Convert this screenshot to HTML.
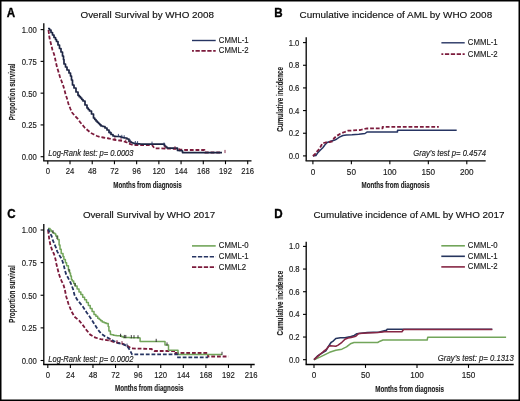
<!DOCTYPE html>
<html><head><meta charset="utf-8"><title>Figure</title>
<style>html,body{margin:0;padding:0;background:#fff;width:520px;height:401px;overflow:hidden;position:relative;font-family:"Liberation Sans",sans-serif;}</style>
</head><body>
<svg width="520" height="401" viewBox="0 0 520 401" style="position:absolute;left:0;top:0;will-change:transform;font-family:'Liberation Sans', sans-serif">
<rect x="0" y="0" width="520" height="401" fill="#fff"/>
<text transform="translate(6.8,16.7) scale(0.9434,1)" font-size="12.30" text-anchor="start" font-weight="bold" font-style="normal" fill="#000" stroke="#000" stroke-width="0.35">A</text>
<text x="80.5" y="17.6" font-size="9.86" text-anchor="start" font-weight="normal" font-style="normal" fill="#111" stroke="#111" stroke-width="0.15">Overall Survival by WHO 2008</text>
<line x1="43.8" y1="23.2" x2="43.8" y2="160.8" stroke="#000" stroke-width="1.3"/>
<line x1="43.15" y1="160.8" x2="251.5" y2="160.8" stroke="#000" stroke-width="1.35"/>
<line x1="40.599999999999994" y1="156.7" x2="43.8" y2="156.7" stroke="#000" stroke-width="1.1"/>
<text transform="translate(36.7,160.04999999999998) scale(0.9091,1)" font-size="8.47" text-anchor="end" font-weight="normal" font-style="normal" fill="#1a1a1a" stroke="#1a1a1a" stroke-width="0.15">0.00</text>
<line x1="40.599999999999994" y1="124.92499999999998" x2="43.8" y2="124.92499999999998" stroke="#000" stroke-width="1.1"/>
<text transform="translate(36.7,128.27499999999998) scale(0.9091,1)" font-size="8.47" text-anchor="end" font-weight="normal" font-style="normal" fill="#1a1a1a" stroke="#1a1a1a" stroke-width="0.15">0.25</text>
<line x1="40.599999999999994" y1="93.14999999999999" x2="43.8" y2="93.14999999999999" stroke="#000" stroke-width="1.1"/>
<text transform="translate(36.7,96.49999999999999) scale(0.9091,1)" font-size="8.47" text-anchor="end" font-weight="normal" font-style="normal" fill="#1a1a1a" stroke="#1a1a1a" stroke-width="0.15">0.50</text>
<line x1="40.599999999999994" y1="61.375" x2="43.8" y2="61.375" stroke="#000" stroke-width="1.1"/>
<text transform="translate(36.7,64.725) scale(0.9091,1)" font-size="8.47" text-anchor="end" font-weight="normal" font-style="normal" fill="#1a1a1a" stroke="#1a1a1a" stroke-width="0.15">0.75</text>
<line x1="40.599999999999994" y1="29.599999999999994" x2="43.8" y2="29.599999999999994" stroke="#000" stroke-width="1.1"/>
<text transform="translate(36.7,32.949999999999996) scale(0.9091,1)" font-size="8.47" text-anchor="end" font-weight="normal" font-style="normal" fill="#1a1a1a" stroke="#1a1a1a" stroke-width="0.15">1.00</text>
<line x1="47.8" y1="160.8" x2="47.8" y2="164.20000000000002" stroke="#000" stroke-width="1.1"/>
<text transform="translate(47.8,173.9) scale(0.9091,1)" font-size="8.47" text-anchor="middle" font-weight="normal" font-style="normal" fill="#1a1a1a" stroke="#1a1a1a" stroke-width="0.15">0</text>
<line x1="70.012" y1="160.8" x2="70.012" y2="164.20000000000002" stroke="#000" stroke-width="1.1"/>
<text transform="translate(70.012,173.9) scale(0.9091,1)" font-size="8.47" text-anchor="middle" font-weight="normal" font-style="normal" fill="#1a1a1a" stroke="#1a1a1a" stroke-width="0.15">24</text>
<line x1="92.22399999999999" y1="160.8" x2="92.22399999999999" y2="164.20000000000002" stroke="#000" stroke-width="1.1"/>
<text transform="translate(92.22399999999999,173.9) scale(0.9091,1)" font-size="8.47" text-anchor="middle" font-weight="normal" font-style="normal" fill="#1a1a1a" stroke="#1a1a1a" stroke-width="0.15">48</text>
<line x1="114.43599999999999" y1="160.8" x2="114.43599999999999" y2="164.20000000000002" stroke="#000" stroke-width="1.1"/>
<text transform="translate(114.43599999999999,173.9) scale(0.9091,1)" font-size="8.47" text-anchor="middle" font-weight="normal" font-style="normal" fill="#1a1a1a" stroke="#1a1a1a" stroke-width="0.15">72</text>
<line x1="136.648" y1="160.8" x2="136.648" y2="164.20000000000002" stroke="#000" stroke-width="1.1"/>
<text transform="translate(136.648,173.9) scale(0.9091,1)" font-size="8.47" text-anchor="middle" font-weight="normal" font-style="normal" fill="#1a1a1a" stroke="#1a1a1a" stroke-width="0.15">96</text>
<line x1="158.86" y1="160.8" x2="158.86" y2="164.20000000000002" stroke="#000" stroke-width="1.1"/>
<text transform="translate(158.86,173.9) scale(0.9091,1)" font-size="8.47" text-anchor="middle" font-weight="normal" font-style="normal" fill="#1a1a1a" stroke="#1a1a1a" stroke-width="0.15">120</text>
<line x1="181.072" y1="160.8" x2="181.072" y2="164.20000000000002" stroke="#000" stroke-width="1.1"/>
<text transform="translate(181.072,173.9) scale(0.9091,1)" font-size="8.47" text-anchor="middle" font-weight="normal" font-style="normal" fill="#1a1a1a" stroke="#1a1a1a" stroke-width="0.15">144</text>
<line x1="203.284" y1="160.8" x2="203.284" y2="164.20000000000002" stroke="#000" stroke-width="1.1"/>
<text transform="translate(203.284,173.9) scale(0.9091,1)" font-size="8.47" text-anchor="middle" font-weight="normal" font-style="normal" fill="#1a1a1a" stroke="#1a1a1a" stroke-width="0.15">168</text>
<line x1="225.49599999999998" y1="160.8" x2="225.49599999999998" y2="164.20000000000002" stroke="#000" stroke-width="1.1"/>
<text transform="translate(225.49599999999998,173.9) scale(0.9091,1)" font-size="8.47" text-anchor="middle" font-weight="normal" font-style="normal" fill="#1a1a1a" stroke="#1a1a1a" stroke-width="0.15">192</text>
<line x1="247.70799999999997" y1="160.8" x2="247.70799999999997" y2="164.20000000000002" stroke="#000" stroke-width="1.1"/>
<text transform="translate(247.70799999999997,173.9) scale(0.9091,1)" font-size="8.47" text-anchor="middle" font-weight="normal" font-style="normal" fill="#1a1a1a" stroke="#1a1a1a" stroke-width="0.15">216</text>
<text x="147.5" y="188.1" font-size="9.8" text-anchor="middle" font-weight="bold" font-style="normal" fill="#222" stroke="#222" stroke-width="0.15" textLength="68.5" lengthAdjust="spacingAndGlyphs">Months from diagnosis</text>
<text x="0" y="0" font-size="9.8" text-anchor="middle" font-weight="bold" font-style="normal" fill="#222" stroke="#222" stroke-width="0.15" textLength="56.8" lengthAdjust="spacingAndGlyphs" transform="translate(14.8,91.85) rotate(-90)">Proportion survival</text>
<text transform="translate(48.2,155.8) scale(0.9091,1)" font-size="8.36" text-anchor="start" font-weight="normal" font-style="italic" fill="#1a1a1a" stroke="#1a1a1a" stroke-width="0.15">Log-Rank test: p= 0.0003</text>
<path d="M192.00,40.50 L215.70,40.50" fill="none" stroke="#263462" stroke-width="1.4" stroke-linejoin="round"/>
<path d="M192.00,50.80 L215.70,50.80" fill="none" stroke="#7c1b3c" stroke-width="1.7" stroke-dasharray="4.3 1.6" stroke-linejoin="round" stroke-dashoffset="2.4"/>
<text transform="translate(218.8,42.8) scale(0.9091,1)" font-size="8.58" text-anchor="start" font-weight="normal" font-style="normal" fill="#1a1a1a" stroke="#1a1a1a" stroke-width="0.15">CMML-1</text>
<text transform="translate(218.8,53.1) scale(0.9091,1)" font-size="8.58" text-anchor="start" font-weight="normal" font-style="normal" fill="#1a1a1a" stroke="#1a1a1a" stroke-width="0.15">CMML-2</text>
<path d="M48.50,30.00 L49.00,34.00 L49.50,38.00 L50.50,42.00 L51.50,46.00 L52.50,50.00 L54.00,54.00 L55.00,58.00 L55.80,62.00 L57.00,67.00 L58.50,72.00 L60.00,77.00 L61.50,81.00 L63.00,85.00 L64.50,90.00 L65.50,94.00 L67.00,98.50 L68.50,104.00 L70.50,109.00 L72.00,112.50 L75.00,116.00 L78.00,119.00 L80.00,122.00 L82.50,125.00 L85.00,128.00 L88.00,130.50 L91.00,133.00 L94.00,134.50 L97.00,136.00 L100.00,137.00 L103.00,137.50 L106.00,138.00 L109.00,138.50 L113.00,139.50 L116.00,140.00 L120.00,140.50 L124.00,141.50 L127.00,142.50 L130.00,144.00 L133.00,145.00 L152.00,145.00 L154.60,148.30 L176.00,148.80 L180.00,149.50 L186.00,150.00 L204.50,150.00 L205.00,152.50 L222.00,152.50" fill="none" stroke="#7c1b3c" stroke-width="1.8" stroke-dasharray="3.8 1.9" stroke-linejoin="round"/>
<path d="M48.00,28.50 L49.50,28.50 L49.50,30.00 L51.00,30.00 L51.00,32.50 L52.50,32.50 L52.50,35.00 L54.00,35.00 L54.00,37.50 L55.50,37.50 L55.50,39.50 L56.50,39.50 L56.50,41.50 L58.00,41.50 L58.00,45.00 L59.50,45.00 L59.50,48.50 L61.00,48.50 L61.00,52.00 L62.50,52.00 L62.50,56.00 L63.50,56.00 L63.50,59.50 L64.00,59.50 L64.00,64.00 L65.50,64.00 L65.50,67.00 L67.00,67.00 L67.00,70.00 L69.00,70.00 L69.00,73.00 L70.50,73.00 L70.50,76.00 L71.50,76.00 L71.50,80.00 L72.50,80.00 L72.50,85.00 L74.00,85.00 L74.00,88.00 L76.00,88.00 L76.00,92.00 L78.00,92.00 L78.00,95.30 L79.25,95.30 L79.25,96.65 L80.50,96.65 L80.50,98.00 L81.75,98.00 L81.75,99.50 L83.00,99.50 L83.00,101.00 L85.00,101.00 L85.00,105.00 L87.00,105.00 L87.00,108.00 L88.25,108.00 L88.25,109.50 L89.50,109.50 L89.50,111.00 L91.50,111.00 L91.50,114.00 L93.50,114.00 L93.50,118.00 L94.75,118.00 L94.75,119.50 L96.00,119.50 L96.00,121.00 L97.25,121.00 L97.25,122.25 L98.50,122.25 L98.50,123.50 L99.75,123.50 L99.75,124.75 L101.00,124.75 L101.00,126.00 L103.00,126.00 L103.00,126.50 L105.00,126.50 L105.00,128.00 L107.00,128.00 L107.00,130.00 L109.00,130.00 L109.00,132.50 L111.00,132.50 L111.00,134.50 L113.00,134.50 L113.00,136.00 L114.50,136.00 L114.50,136.25 L116.00,136.25 L116.00,136.50 L119.00,136.50 L120.50,136.50 L120.50,137.00 L122.00,137.00 L122.00,137.50 L123.50,137.50 L123.50,137.75 L125.00,137.75 L125.00,138.00 L127.00,138.00 L127.00,139.00 L129.00,139.00 L129.00,141.50 L131.00,141.50 L131.00,142.50 L132.50,142.50 L132.50,143.00 L134.00,143.00 L134.00,143.50 L135.50,143.50 L135.50,143.62 L137.00,143.62 L137.00,143.75 L138.50,143.75 L138.50,143.88 L140.00,143.88 L140.00,144.00 L141.50,144.00 L141.50,144.03 L143.00,144.03 L143.00,144.05 L144.50,144.05 L144.50,144.07 L146.00,144.07 L146.00,144.10 L147.50,144.10 L147.50,144.12 L149.00,144.12 L149.00,144.15 L150.50,144.15 L150.50,144.17 L152.00,144.17 L152.00,144.20 L163.50,144.20 L164.50,144.20 L164.50,146.00 L165.75,146.00 L165.75,147.00 L167.00,147.00 L167.00,148.00 L168.50,148.00 L168.50,148.03 L170.00,148.03 L170.00,148.07 L171.50,148.07 L171.50,148.10 L173.00,148.10 L173.00,148.13 L174.50,148.13 L174.50,148.17 L176.00,148.17 L176.00,148.20 L177.50,148.20 L177.50,150.50 L179.00,150.50 L179.00,150.60 L180.50,150.60 L180.50,150.70 L182.00,150.70 L182.00,150.80 L182.50,150.80 L182.50,152.60 L222.00,152.60" fill="none" stroke="#1c2443" stroke-width="1.7" stroke-linejoin="round"/>
<line x1="110" y1="130.90" x2="110" y2="134.10" stroke="#263462" stroke-width="0.9"/>
<line x1="118.4" y1="133.90" x2="118.4" y2="137.10" stroke="#263462" stroke-width="0.9"/>
<line x1="121.8" y1="134.83" x2="121.8" y2="138.03" stroke="#263462" stroke-width="0.9"/>
<line x1="124.2" y1="135.27" x2="124.2" y2="138.47" stroke="#263462" stroke-width="0.9"/>
<line x1="130.3" y1="139.55" x2="130.3" y2="142.75" stroke="#263462" stroke-width="0.9"/>
<line x1="135.3" y1="141.01" x2="135.3" y2="144.21" stroke="#263462" stroke-width="0.9"/>
<line x1="137.6" y1="141.20" x2="137.6" y2="144.40" stroke="#263462" stroke-width="0.9"/>
<line x1="152" y1="141.60" x2="152" y2="144.80" stroke="#263462" stroke-width="0.9"/>
<line x1="164" y1="142.50" x2="164" y2="145.70" stroke="#263462" stroke-width="0.9"/>
<line x1="114.9" y1="137.22" x2="114.9" y2="140.42" stroke="#7c1b3c" stroke-width="0.9"/>
<line x1="121" y1="138.15" x2="121" y2="141.35" stroke="#7c1b3c" stroke-width="0.9"/>
<line x1="125.7" y1="139.47" x2="125.7" y2="142.67" stroke="#7c1b3c" stroke-width="0.9"/>
<line x1="129.9" y1="141.35" x2="129.9" y2="144.55" stroke="#7c1b3c" stroke-width="0.9"/>
<line x1="165" y1="145.94" x2="165" y2="149.14" stroke="#7c1b3c" stroke-width="0.9"/>
<line x1="175" y1="146.18" x2="175" y2="149.38" stroke="#7c1b3c" stroke-width="0.9"/>
<line x1="225" y1="149.90" x2="225" y2="153.10" stroke="#7c1b3c" stroke-width="0.9"/>
<text transform="translate(274.2,16.7) scale(0.9434,1)" font-size="12.30" text-anchor="start" font-weight="bold" font-style="normal" fill="#000" stroke="#000" stroke-width="0.35">B</text>
<text x="299.5" y="17.6" font-size="9.93" text-anchor="start" font-weight="normal" font-style="normal" fill="#111" stroke="#111" stroke-width="0.15">Cumulative incidence of AML by WHO 2008</text>
<line x1="306.2" y1="37.3" x2="306.2" y2="160.8" stroke="#000" stroke-width="1.3"/>
<line x1="305.55" y1="160.8" x2="485.7" y2="160.8" stroke="#000" stroke-width="1.35"/>
<line x1="303.0" y1="155.9" x2="306.2" y2="155.9" stroke="#000" stroke-width="1.1"/>
<text transform="translate(299.4,158.85) scale(0.9091,1)" font-size="8.47" text-anchor="end" font-weight="normal" font-style="normal" fill="#1a1a1a" stroke="#1a1a1a" stroke-width="0.15">0.0</text>
<line x1="303.0" y1="133.24" x2="306.2" y2="133.24" stroke="#000" stroke-width="1.1"/>
<text transform="translate(299.4,136.19) scale(0.9091,1)" font-size="8.47" text-anchor="end" font-weight="normal" font-style="normal" fill="#1a1a1a" stroke="#1a1a1a" stroke-width="0.15">0.2</text>
<line x1="303.0" y1="110.58000000000001" x2="306.2" y2="110.58000000000001" stroke="#000" stroke-width="1.1"/>
<text transform="translate(299.4,113.53000000000002) scale(0.9091,1)" font-size="8.47" text-anchor="end" font-weight="normal" font-style="normal" fill="#1a1a1a" stroke="#1a1a1a" stroke-width="0.15">0.4</text>
<line x1="303.0" y1="87.92000000000002" x2="306.2" y2="87.92000000000002" stroke="#000" stroke-width="1.1"/>
<text transform="translate(299.4,90.87000000000002) scale(0.9091,1)" font-size="8.47" text-anchor="end" font-weight="normal" font-style="normal" fill="#1a1a1a" stroke="#1a1a1a" stroke-width="0.15">0.6</text>
<line x1="303.0" y1="65.26" x2="306.2" y2="65.26" stroke="#000" stroke-width="1.1"/>
<text transform="translate(299.4,68.21000000000001) scale(0.9091,1)" font-size="8.47" text-anchor="end" font-weight="normal" font-style="normal" fill="#1a1a1a" stroke="#1a1a1a" stroke-width="0.15">0.8</text>
<line x1="303.0" y1="42.60000000000001" x2="306.2" y2="42.60000000000001" stroke="#000" stroke-width="1.1"/>
<text transform="translate(299.4,45.55000000000001) scale(0.9091,1)" font-size="8.47" text-anchor="end" font-weight="normal" font-style="normal" fill="#1a1a1a" stroke="#1a1a1a" stroke-width="0.15">1.0</text>
<line x1="312.9" y1="160.8" x2="312.9" y2="164.20000000000002" stroke="#000" stroke-width="1.1"/>
<text transform="translate(312.9,174.9) scale(0.9091,1)" font-size="9.02" text-anchor="middle" font-weight="normal" font-style="normal" fill="#1a1a1a" stroke="#1a1a1a" stroke-width="0.15">0</text>
<line x1="351.375" y1="160.8" x2="351.375" y2="164.20000000000002" stroke="#000" stroke-width="1.1"/>
<text transform="translate(351.375,174.9) scale(0.9091,1)" font-size="9.02" text-anchor="middle" font-weight="normal" font-style="normal" fill="#1a1a1a" stroke="#1a1a1a" stroke-width="0.15">50</text>
<line x1="389.84999999999997" y1="160.8" x2="389.84999999999997" y2="164.20000000000002" stroke="#000" stroke-width="1.1"/>
<text transform="translate(389.84999999999997,174.9) scale(0.9091,1)" font-size="9.02" text-anchor="middle" font-weight="normal" font-style="normal" fill="#1a1a1a" stroke="#1a1a1a" stroke-width="0.15">100</text>
<line x1="428.325" y1="160.8" x2="428.325" y2="164.20000000000002" stroke="#000" stroke-width="1.1"/>
<text transform="translate(428.325,174.9) scale(0.9091,1)" font-size="9.02" text-anchor="middle" font-weight="normal" font-style="normal" fill="#1a1a1a" stroke="#1a1a1a" stroke-width="0.15">150</text>
<line x1="466.79999999999995" y1="160.8" x2="466.79999999999995" y2="164.20000000000002" stroke="#000" stroke-width="1.1"/>
<text transform="translate(466.79999999999995,174.9) scale(0.9091,1)" font-size="9.02" text-anchor="middle" font-weight="normal" font-style="normal" fill="#1a1a1a" stroke="#1a1a1a" stroke-width="0.15">200</text>
<text x="395.6" y="187.7" font-size="9.8" text-anchor="middle" font-weight="bold" font-style="normal" fill="#222" stroke="#222" stroke-width="0.15" textLength="68.2" lengthAdjust="spacingAndGlyphs">Months from diagnosis</text>
<text x="0" y="0" font-size="9.8" text-anchor="middle" font-weight="bold" font-style="normal" fill="#222" stroke="#222" stroke-width="0.15" textLength="64.7" lengthAdjust="spacingAndGlyphs" transform="translate(283.1,99.35) rotate(-90)">Cumulative incidence</text>
<text transform="translate(486,155.9) scale(0.9091,1)" font-size="8.42" text-anchor="end" font-weight="normal" font-style="italic" fill="#1a1a1a" stroke="#1a1a1a" stroke-width="0.15">Gray’s test p= 0.4574</text>
<path d="M441.40,42.80 L464.70,42.80" fill="none" stroke="#263462" stroke-width="1.4" stroke-linejoin="round"/>
<path d="M441.40,54.20 L464.70,54.20" fill="none" stroke="#7c1b3c" stroke-width="1.7" stroke-dasharray="4.3 1.6" stroke-linejoin="round" stroke-dashoffset="2.4"/>
<text transform="translate(467.8,45.1) scale(0.9091,1)" font-size="8.58" text-anchor="start" font-weight="normal" font-style="normal" fill="#1a1a1a" stroke="#1a1a1a" stroke-width="0.15">CMML-1</text>
<text transform="translate(467.8,56.5) scale(0.9091,1)" font-size="8.58" text-anchor="start" font-weight="normal" font-style="normal" fill="#1a1a1a" stroke="#1a1a1a" stroke-width="0.15">CMML-2</text>
<path d="M312.90,156.00 L315.90,155.60 L317.60,153.00 L320.20,150.30 L322.80,147.70 L325.00,144.70 L327.20,142.50 L330.70,141.20 L334.20,140.30 L336.80,139.00 L339.40,137.20 L342.90,135.50 L346.40,135.00 L352.00,134.80 L358.80,134.20 L365.00,133.50 L367.30,131.90 L397.50,131.90 L397.50,130.20 L456.70,130.20" fill="none" stroke="#263462" stroke-width="1.5" stroke-linejoin="round"/>
<path d="M312.90,156.00 L315.80,153.50 L316.30,152.10 L319.40,149.00 L322.40,143.30 L325.50,142.50 L329.40,142.00 L332.90,141.20 L333.80,138.50 L336.80,135.90 L340.30,133.70 L344.70,132.00 L348.20,130.70 L352.00,130.50 L360.40,130.00 L366.50,128.50 L382.60,128.30 L382.60,126.80 L438.80,126.80" fill="none" stroke="#7c1b3c" stroke-width="1.8" stroke-dasharray="3.8 1.9" stroke-linejoin="round"/>
<text transform="translate(7.2,217.7) scale(0.9434,1)" font-size="12.30" text-anchor="start" font-weight="bold" font-style="normal" fill="#000" stroke="#000" stroke-width="0.35">C</text>
<text x="82.9" y="218.1" font-size="9.75" text-anchor="start" font-weight="normal" font-style="normal" fill="#111" stroke="#111" stroke-width="0.15">Overall Survival by WHO 2017</text>
<line x1="43.8" y1="224" x2="43.8" y2="364.5" stroke="#000" stroke-width="1.3"/>
<line x1="43.15" y1="364.5" x2="254.7" y2="364.5" stroke="#000" stroke-width="1.35"/>
<line x1="40.599999999999994" y1="360.5" x2="43.8" y2="360.5" stroke="#000" stroke-width="1.1"/>
<text transform="translate(36.7,363.85) scale(0.9091,1)" font-size="8.47" text-anchor="end" font-weight="normal" font-style="normal" fill="#1a1a1a" stroke="#1a1a1a" stroke-width="0.15">0.00</text>
<line x1="40.599999999999994" y1="327.875" x2="43.8" y2="327.875" stroke="#000" stroke-width="1.1"/>
<text transform="translate(36.7,331.225) scale(0.9091,1)" font-size="8.47" text-anchor="end" font-weight="normal" font-style="normal" fill="#1a1a1a" stroke="#1a1a1a" stroke-width="0.15">0.25</text>
<line x1="40.599999999999994" y1="295.25" x2="43.8" y2="295.25" stroke="#000" stroke-width="1.1"/>
<text transform="translate(36.7,298.6) scale(0.9091,1)" font-size="8.47" text-anchor="end" font-weight="normal" font-style="normal" fill="#1a1a1a" stroke="#1a1a1a" stroke-width="0.15">0.50</text>
<line x1="40.599999999999994" y1="262.625" x2="43.8" y2="262.625" stroke="#000" stroke-width="1.1"/>
<text transform="translate(36.7,265.975) scale(0.9091,1)" font-size="8.47" text-anchor="end" font-weight="normal" font-style="normal" fill="#1a1a1a" stroke="#1a1a1a" stroke-width="0.15">0.75</text>
<line x1="40.599999999999994" y1="230.0" x2="43.8" y2="230.0" stroke="#000" stroke-width="1.1"/>
<text transform="translate(36.7,233.35) scale(0.9091,1)" font-size="8.47" text-anchor="end" font-weight="normal" font-style="normal" fill="#1a1a1a" stroke="#1a1a1a" stroke-width="0.15">1.00</text>
<line x1="47.8" y1="364.5" x2="47.8" y2="367.9" stroke="#000" stroke-width="1.1"/>
<text transform="translate(47.8,377.7) scale(0.9091,1)" font-size="8.47" text-anchor="middle" font-weight="normal" font-style="normal" fill="#1a1a1a" stroke="#1a1a1a" stroke-width="0.15">0</text>
<line x1="70.384" y1="364.5" x2="70.384" y2="367.9" stroke="#000" stroke-width="1.1"/>
<text transform="translate(70.384,377.7) scale(0.9091,1)" font-size="8.47" text-anchor="middle" font-weight="normal" font-style="normal" fill="#1a1a1a" stroke="#1a1a1a" stroke-width="0.15">24</text>
<line x1="92.96799999999999" y1="364.5" x2="92.96799999999999" y2="367.9" stroke="#000" stroke-width="1.1"/>
<text transform="translate(92.96799999999999,377.7) scale(0.9091,1)" font-size="8.47" text-anchor="middle" font-weight="normal" font-style="normal" fill="#1a1a1a" stroke="#1a1a1a" stroke-width="0.15">48</text>
<line x1="115.55199999999999" y1="364.5" x2="115.55199999999999" y2="367.9" stroke="#000" stroke-width="1.1"/>
<text transform="translate(115.55199999999999,377.7) scale(0.9091,1)" font-size="8.47" text-anchor="middle" font-weight="normal" font-style="normal" fill="#1a1a1a" stroke="#1a1a1a" stroke-width="0.15">72</text>
<line x1="138.136" y1="364.5" x2="138.136" y2="367.9" stroke="#000" stroke-width="1.1"/>
<text transform="translate(138.136,377.7) scale(0.9091,1)" font-size="8.47" text-anchor="middle" font-weight="normal" font-style="normal" fill="#1a1a1a" stroke="#1a1a1a" stroke-width="0.15">96</text>
<line x1="160.71999999999997" y1="364.5" x2="160.71999999999997" y2="367.9" stroke="#000" stroke-width="1.1"/>
<text transform="translate(160.71999999999997,377.7) scale(0.9091,1)" font-size="8.47" text-anchor="middle" font-weight="normal" font-style="normal" fill="#1a1a1a" stroke="#1a1a1a" stroke-width="0.15">120</text>
<line x1="183.30399999999997" y1="364.5" x2="183.30399999999997" y2="367.9" stroke="#000" stroke-width="1.1"/>
<text transform="translate(183.30399999999997,377.7) scale(0.9091,1)" font-size="8.47" text-anchor="middle" font-weight="normal" font-style="normal" fill="#1a1a1a" stroke="#1a1a1a" stroke-width="0.15">144</text>
<line x1="205.88799999999998" y1="364.5" x2="205.88799999999998" y2="367.9" stroke="#000" stroke-width="1.1"/>
<text transform="translate(205.88799999999998,377.7) scale(0.9091,1)" font-size="8.47" text-anchor="middle" font-weight="normal" font-style="normal" fill="#1a1a1a" stroke="#1a1a1a" stroke-width="0.15">168</text>
<line x1="228.47199999999998" y1="364.5" x2="228.47199999999998" y2="367.9" stroke="#000" stroke-width="1.1"/>
<text transform="translate(228.47199999999998,377.7) scale(0.9091,1)" font-size="8.47" text-anchor="middle" font-weight="normal" font-style="normal" fill="#1a1a1a" stroke="#1a1a1a" stroke-width="0.15">192</text>
<line x1="251.05599999999998" y1="364.5" x2="251.05599999999998" y2="367.9" stroke="#000" stroke-width="1.1"/>
<text transform="translate(251.05599999999998,377.7) scale(0.9091,1)" font-size="8.47" text-anchor="middle" font-weight="normal" font-style="normal" fill="#1a1a1a" stroke="#1a1a1a" stroke-width="0.15">216</text>
<text x="149.2" y="391" font-size="9.8" text-anchor="middle" font-weight="bold" font-style="normal" fill="#222" stroke="#222" stroke-width="0.15" textLength="68.3" lengthAdjust="spacingAndGlyphs">Months from diagnosis</text>
<text x="0" y="0" font-size="9.8" text-anchor="middle" font-weight="bold" font-style="normal" fill="#222" stroke="#222" stroke-width="0.15" textLength="57.5" lengthAdjust="spacingAndGlyphs" transform="translate(14.8,294.0) rotate(-90)">Proportion survival</text>
<text transform="translate(48.2,361.7) scale(0.9091,1)" font-size="8.36" text-anchor="start" font-weight="normal" font-style="italic" fill="#1a1a1a" stroke="#1a1a1a" stroke-width="0.15">Log-Rank test: p= 0.0002</text>
<path d="M192.00,245.90 L215.70,245.90" fill="none" stroke="#72a55a" stroke-width="1.6" stroke-linejoin="round"/>
<path d="M192.00,256.70 L215.70,256.70" fill="none" stroke="#263462" stroke-width="1.6" stroke-dasharray="4.3 1.6" stroke-linejoin="round"/>
<path d="M192.00,267.20 L215.70,267.20" fill="none" stroke="#7c1b3c" stroke-width="1.7" stroke-dasharray="4.3 1.6" stroke-linejoin="round"/>
<text transform="translate(218.8,248.2) scale(0.9091,1)" font-size="8.58" text-anchor="start" font-weight="normal" font-style="normal" fill="#1a1a1a" stroke="#1a1a1a" stroke-width="0.15">CMML-0</text>
<text transform="translate(218.8,259.0) scale(0.9091,1)" font-size="8.58" text-anchor="start" font-weight="normal" font-style="normal" fill="#1a1a1a" stroke="#1a1a1a" stroke-width="0.15">CMML-1</text>
<text transform="translate(218.8,269.5) scale(0.9091,1)" font-size="8.58" text-anchor="start" font-weight="normal" font-style="normal" fill="#1a1a1a" stroke="#1a1a1a" stroke-width="0.15">CMML2</text>
<path d="M48.00,230.00 L48.60,234.00 L49.20,239.00 L50.40,245.00 L52.20,250.40 L54.00,254.00 L55.50,259.20 L56.40,264.00 L57.60,268.80 L58.80,273.60 L60.00,277.20 L61.50,280.80 L63.50,285.00 L64.70,289.00 L66.20,296.50 L68.50,304.00 L71.50,311.40 L74.50,316.70 L79.00,320.40 L82.70,324.90 L86.50,330.10 L90.20,334.60 L95.40,337.60 L100.70,339.10 L108.50,340.30 L115.20,342.30 L121.90,343.60 L127.30,345.70 L131.30,348.40 L151.50,349.00 L154.20,351.00 L175.00,351.00 L175.00,353.00 L208.00,353.00 L208.00,356.50 L228.50,356.50" fill="none" stroke="#7c1b3c" stroke-width="1.8" stroke-dasharray="3.8 1.9" stroke-linejoin="round"/>
<path d="M48.00,228.50 L50.00,228.50 L50.00,230.00 L51.25,230.00 L51.25,231.25 L52.50,231.25 L52.50,232.50 L53.75,232.50 L53.75,233.25 L55.00,233.25 L55.00,234.00 L55.80,234.00 L55.80,236.00 L57.60,236.00 L57.60,239.60 L59.10,239.60 L59.10,245.00 L60.00,245.00 L60.00,249.20 L61.20,249.20 L61.20,253.40 L63.00,253.40 L63.00,256.40 L63.90,256.40 L63.90,259.40 L65.40,259.40 L65.40,262.80 L66.60,262.80 L66.60,265.80 L68.40,265.80 L68.40,270.00 L69.60,270.00 L69.60,273.00 L70.50,273.00 L70.50,276.00 L71.40,276.00 L71.40,279.60 L72.20,279.60 L72.20,281.00 L73.70,281.00 L73.70,283.50 L75.20,283.50 L75.20,286.00 L77.10,286.00 L77.10,289.00 L79.00,289.00 L79.00,292.00 L80.85,292.00 L80.85,294.60 L82.70,294.60 L82.70,297.20 L84.60,297.20 L84.60,299.85 L86.50,299.85 L86.50,302.50 L88.35,302.50 L88.35,305.45 L90.20,305.45 L90.20,308.40 L92.10,308.40 L92.10,311.40 L94.00,311.40 L94.00,314.40 L95.85,314.40 L95.85,316.30 L97.70,316.30 L97.70,318.20 L99.20,318.20 L99.20,319.43 L100.70,319.43 L100.70,320.67 L102.20,320.67 L102.20,321.90 L104.10,321.90 L104.10,322.65 L106.00,322.65 L106.00,323.40 L108.20,323.40 L108.20,326.40 L108.90,326.40 L108.90,330.90 L110.40,330.90 L110.40,334.60 L111.90,334.60 L111.90,334.87 L113.40,334.87 L113.40,335.13 L114.90,335.13 L114.90,335.40 L116.63,335.40 L116.63,335.63 L118.37,335.63 L118.37,335.87 L120.10,335.87 L120.10,336.10 L121.70,336.10 L121.70,336.80 L123.30,336.80 L123.30,337.50 L124.91,337.50 L124.91,337.54 L126.52,337.54 L126.52,337.58 L128.13,337.58 L128.13,337.62 L129.74,337.62 L129.74,337.66 L131.35,337.66 L131.35,337.70 L132.96,337.70 L132.96,337.74 L134.57,337.74 L134.57,337.78 L136.18,337.78 L136.18,337.82 L137.79,337.82 L137.79,337.86 L139.40,337.86 L139.40,337.90 L140.10,337.90 L140.10,341.40 L164.30,341.40 L165.00,341.40 L165.00,345.00 L168.50,345.00 L168.50,350.20 L178.00,350.20 L178.00,354.40 L222.00,354.40" fill="none" stroke="#72a55a" stroke-width="1.5" stroke-linejoin="round"/>
<path d="M48.00,229.00 L49.50,232.00 L51.60,236.00 L52.80,240.20 L54.30,243.80 L56.10,248.00 L57.30,251.60 L59.70,255.80 L61.80,259.20 L63.00,262.80 L63.90,265.80 L64.80,270.00 L66.30,274.80 L68.10,277.80 L69.60,280.80 L70.70,283.00 L73.00,289.00 L74.50,295.00 L77.50,300.20 L82.00,305.40 L86.50,312.20 L90.20,317.40 L94.00,323.40 L97.70,329.40 L101.40,333.90 L105.90,336.90 L110.40,339.10 L113.80,341.00 L117.90,343.00 L123.30,344.30 L127.30,346.30 L130.00,350.40 L132.00,354.40 L178.00,354.40 L178.00,357.40 L208.00,357.40" fill="none" stroke="#263462" stroke-width="1.8" stroke-dasharray="3.8 1.9" stroke-linejoin="round"/>
<line x1="53" y1="230.20" x2="53" y2="233.40" stroke="#222" stroke-width="0.9"/>
<line x1="57" y1="235.80" x2="57" y2="239.00" stroke="#222" stroke-width="0.9"/>
<line x1="69" y1="268.90" x2="69" y2="272.10" stroke="#222" stroke-width="0.9"/>
<line x1="75" y1="283.07" x2="75" y2="286.27" stroke="#222" stroke-width="0.9"/>
<line x1="120.6" y1="333.72" x2="120.6" y2="336.92" stroke="#222" stroke-width="0.9"/>
<line x1="124.3" y1="334.92" x2="124.3" y2="338.12" stroke="#222" stroke-width="0.9"/>
<line x1="125.8" y1="334.96" x2="125.8" y2="338.16" stroke="#222" stroke-width="0.9"/>
<line x1="131.3" y1="335.10" x2="131.3" y2="338.30" stroke="#222" stroke-width="0.9"/>
<line x1="134" y1="335.17" x2="134" y2="338.37" stroke="#222" stroke-width="0.9"/>
<line x1="138" y1="335.27" x2="138" y2="338.47" stroke="#222" stroke-width="0.9"/>
<line x1="156.2" y1="338.80" x2="156.2" y2="342.00" stroke="#222" stroke-width="0.9"/>
<line x1="167" y1="342.40" x2="167" y2="345.60" stroke="#222" stroke-width="0.9"/>
<line x1="222" y1="351.80" x2="222" y2="355.00" stroke="#222" stroke-width="0.9"/>
<line x1="110" y1="338.15" x2="110" y2="341.35" stroke="#7c1b3c" stroke-width="0.9"/>
<line x1="117" y1="340.05" x2="117" y2="343.25" stroke="#7c1b3c" stroke-width="0.9"/>
<line x1="122" y1="341.04" x2="122" y2="344.24" stroke="#7c1b3c" stroke-width="0.9"/>
<line x1="127" y1="343.55" x2="127" y2="346.75" stroke="#263462" stroke-width="0.9"/>
<text transform="translate(274.2,217.7) scale(0.9434,1)" font-size="12.30" text-anchor="start" font-weight="bold" font-style="normal" fill="#000" stroke="#000" stroke-width="0.35">D</text>
<text x="313.4" y="218.0" font-size="9.85" text-anchor="start" font-weight="normal" font-style="normal" fill="#111" stroke="#111" stroke-width="0.15">Cumulative incidence of AML by WHO 2017</text>
<line x1="306.2" y1="241.7" x2="306.2" y2="364.5" stroke="#000" stroke-width="1.3"/>
<line x1="305.55" y1="364.5" x2="513.7" y2="364.5" stroke="#000" stroke-width="1.35"/>
<line x1="303.0" y1="359.7" x2="306.2" y2="359.7" stroke="#000" stroke-width="1.1"/>
<text transform="translate(299.6,362.65) scale(0.9091,1)" font-size="8.47" text-anchor="end" font-weight="normal" font-style="normal" fill="#1a1a1a" stroke="#1a1a1a" stroke-width="0.15">0.0</text>
<line x1="303.0" y1="337.03999999999996" x2="306.2" y2="337.03999999999996" stroke="#000" stroke-width="1.1"/>
<text transform="translate(299.6,339.98999999999995) scale(0.9091,1)" font-size="8.47" text-anchor="end" font-weight="normal" font-style="normal" fill="#1a1a1a" stroke="#1a1a1a" stroke-width="0.15">0.2</text>
<line x1="303.0" y1="314.38" x2="306.2" y2="314.38" stroke="#000" stroke-width="1.1"/>
<text transform="translate(299.6,317.33) scale(0.9091,1)" font-size="8.47" text-anchor="end" font-weight="normal" font-style="normal" fill="#1a1a1a" stroke="#1a1a1a" stroke-width="0.15">0.4</text>
<line x1="303.0" y1="291.72" x2="306.2" y2="291.72" stroke="#000" stroke-width="1.1"/>
<text transform="translate(299.6,294.67) scale(0.9091,1)" font-size="8.47" text-anchor="end" font-weight="normal" font-style="normal" fill="#1a1a1a" stroke="#1a1a1a" stroke-width="0.15">0.6</text>
<line x1="303.0" y1="269.06" x2="306.2" y2="269.06" stroke="#000" stroke-width="1.1"/>
<text transform="translate(299.6,272.01) scale(0.9091,1)" font-size="8.47" text-anchor="end" font-weight="normal" font-style="normal" fill="#1a1a1a" stroke="#1a1a1a" stroke-width="0.15">0.8</text>
<line x1="303.0" y1="246.39999999999998" x2="306.2" y2="246.39999999999998" stroke="#000" stroke-width="1.1"/>
<text transform="translate(299.6,249.34999999999997) scale(0.9091,1)" font-size="8.47" text-anchor="end" font-weight="normal" font-style="normal" fill="#1a1a1a" stroke="#1a1a1a" stroke-width="0.15">1.0</text>
<line x1="314.0" y1="364.5" x2="314.0" y2="367.9" stroke="#000" stroke-width="1.1"/>
<text transform="translate(314.0,378.2) scale(0.9091,1)" font-size="9.02" text-anchor="middle" font-weight="normal" font-style="normal" fill="#1a1a1a" stroke="#1a1a1a" stroke-width="0.15">0</text>
<line x1="365.5" y1="364.5" x2="365.5" y2="367.9" stroke="#000" stroke-width="1.1"/>
<text transform="translate(365.5,378.2) scale(0.9091,1)" font-size="9.02" text-anchor="middle" font-weight="normal" font-style="normal" fill="#1a1a1a" stroke="#1a1a1a" stroke-width="0.15">50</text>
<line x1="417.0" y1="364.5" x2="417.0" y2="367.9" stroke="#000" stroke-width="1.1"/>
<text transform="translate(417.0,378.2) scale(0.9091,1)" font-size="9.02" text-anchor="middle" font-weight="normal" font-style="normal" fill="#1a1a1a" stroke="#1a1a1a" stroke-width="0.15">100</text>
<line x1="468.5" y1="364.5" x2="468.5" y2="367.9" stroke="#000" stroke-width="1.1"/>
<text transform="translate(468.5,378.2) scale(0.9091,1)" font-size="9.02" text-anchor="middle" font-weight="normal" font-style="normal" fill="#1a1a1a" stroke="#1a1a1a" stroke-width="0.15">150</text>
<text x="409.6" y="391.5" font-size="9.8" text-anchor="middle" font-weight="bold" font-style="normal" fill="#222" stroke="#222" stroke-width="0.15" textLength="68.8" lengthAdjust="spacingAndGlyphs">Months from diagnosis</text>
<text x="0" y="0" font-size="9.8" text-anchor="middle" font-weight="bold" font-style="normal" fill="#222" stroke="#222" stroke-width="0.15" textLength="64.6" lengthAdjust="spacingAndGlyphs" transform="translate(283.1,303.1) rotate(-90)">Cumulative incidence</text>
<text transform="translate(513.7,360.8) scale(0.9091,1)" font-size="8.53" text-anchor="end" font-weight="normal" font-style="italic" fill="#1a1a1a" stroke="#1a1a1a" stroke-width="0.15">Gray’s test: p= 0.1313</text>
<path d="M441.30,245.80 L464.90,245.80" fill="none" stroke="#72a55a" stroke-width="1.6" stroke-linejoin="round"/>
<path d="M441.30,256.30 L464.90,256.30" fill="none" stroke="#26355e" stroke-width="1.6" stroke-linejoin="round"/>
<path d="M441.30,266.90 L464.90,266.90" fill="none" stroke="#862644" stroke-width="1.6" stroke-linejoin="round"/>
<text transform="translate(467.8,248.1) scale(0.9091,1)" font-size="8.58" text-anchor="start" font-weight="normal" font-style="normal" fill="#1a1a1a" stroke="#1a1a1a" stroke-width="0.15">CMML-0</text>
<text transform="translate(467.8,258.6) scale(0.9091,1)" font-size="8.58" text-anchor="start" font-weight="normal" font-style="normal" fill="#1a1a1a" stroke="#1a1a1a" stroke-width="0.15">CMML-1</text>
<text transform="translate(467.8,269.2) scale(0.9091,1)" font-size="8.58" text-anchor="start" font-weight="normal" font-style="normal" fill="#1a1a1a" stroke="#1a1a1a" stroke-width="0.15">CMML-2</text>
<path d="M314.00,359.70 L320.40,356.90 L325.00,354.60 L329.60,352.30 L335.80,350.30 L341.90,349.20 L346.50,346.90 L350.40,343.80 L354.00,342.50 L377.70,342.50 L380.00,341.20 L383.00,340.00 L427.20,340.00 L427.70,337.30 L506.10,337.30" fill="none" stroke="#72a55a" stroke-width="1.5" stroke-linejoin="round"/>
<path d="M314.00,359.70 L317.30,356.20 L321.90,353.10 L325.80,350.80 L328.10,346.90 L331.20,342.30 L333.50,340.80 L335.80,338.50 L340.40,337.70 L345.00,337.70 L349.60,336.90 L354.20,335.40 L356.90,333.80 L367.30,332.50 L379.40,332.10 L386.30,330.40 L387.20,329.20 L492.30,329.20" fill="none" stroke="#26355e" stroke-width="1.6" stroke-linejoin="round"/>
<path d="M314.00,359.70 L318.80,355.40 L323.50,351.50 L326.50,349.20 L328.80,346.20 L330.40,345.70 L335.80,346.20 L338.10,345.10 L341.90,342.30 L345.00,339.20 L348.10,338.00 L351.20,337.40 L355.80,336.20 L358.70,333.50 L367.30,333.00 L377.70,332.50 L384.60,331.80 L401.90,331.80 L403.60,329.50 L492.30,329.50" fill="none" stroke="#862644" stroke-width="1.6" stroke-linejoin="round"/>
<rect x="0.75" y="0.75" width="518.5" height="399.5" fill="none" stroke="#000" stroke-width="1.5"/>
</svg>
</body></html>
